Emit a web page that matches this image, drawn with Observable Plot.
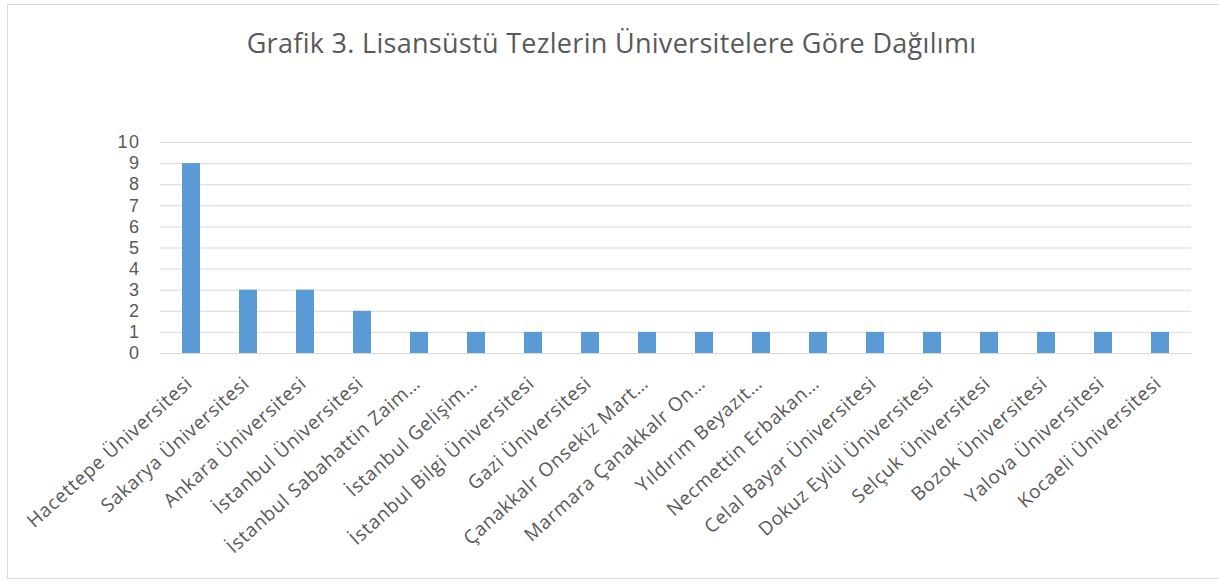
<!DOCTYPE html>
<html>
<head>
<meta charset="utf-8">
<script src="https://cdn.jsdelivr.net/npm/d3@7"></script>
<script src="https://cdn.jsdelivr.net/npm/@observablehq/plot@0.6"></script>
<style>
  html, body { margin: 0; padding: 0; background: #fff; overflow: hidden; }
  #frame { position: absolute; left: 7px; top: 4px; width: 1220px; height: 575px; border: 1px solid #d9d9d9; box-sizing: border-box; }
  #title { position: absolute; left: 0; top: 24px; width: 1223px; text-align: center; font-family: "Open Sans", sans-serif; font-size: 27px; line-height: normal; letter-spacing: 0.3px; color: #595959; white-space: nowrap; }
  #chart { position: absolute; left: 0; top: 0; }
  #chart g[aria-label="x-axis tick label"] text { letter-spacing: 0.7px; }
  #chart g[aria-label="y-axis tick label"] text { letter-spacing: 1.5px; }
</style>
</head>
<body>
<div id="frame"></div>
<div id="chart"></div>
<div id="title">Grafik 3. Lisansüstü Tezlerin Üniversitelere Göre Dağılımı</div>
<script>
const universities = [
  "Hacettepe Üniversitesi",
  "Sakarya Üniversitesi",
  "Ankara Üniversitesi",
  "İstanbul Üniversitesi",
  "İstanbul Sabahattin Zaim…",
  "İstanbul Gelişim…",
  "İstanbul Bilgi Üniversitesi",
  "Gazi Üniversitesi",
  "Çanakkalr Onsekiz Mart…",
  "Marmara Çanakkalr On…",
  "Yıldırım Beyazıt…",
  "Necmettin Erbakan…",
  "Celal Bayar Üniversitesi",
  "Dokuz Eylül Üniversitesi",
  "Selçuk Üniversitesi",
  "Bozok Üniversitesi",
  "Yalova Üniversitesi",
  "Kocaeli Üniversitesi"
];
const counts = [9, 3, 3, 2, 1, 1, 1, 1, 1, 1, 1, 1, 1, 1, 1, 1, 1, 1];
const yTicks = [0, 1, 2, 3, 4, 5, 6, 7, 8, 9, 10];

const data = universities.map((u, i) => ({university: u, count: counts[i]}));

const chart = Plot.plot({
  width: 1219,
  height: 580,
  marginTop: 142,
  marginBottom: 227,
  marginLeft: 160,
  marginRight: 28,
  style: {fontFamily: "Open Sans, sans-serif", fontSize: "19px", color: "#595959", background: "transparent", overflow: "visible"},
  x: {domain: universities, paddingInner: 0.686, paddingOuter: 0.343, label: null},
  y: {domain: [0, 10], label: null},
  marks: [
    Plot.gridY(yTicks, {stroke: "#d9d9d9", strokeOpacity: 1, strokeWidth: 1}),
    Plot.barY(data, {x: "university", y: "count", fill: "#5b9bd5"}),
    Plot.axisY(yTicks, {tickSize: 0, tickPadding: 20, fontSize: 18, fontFamily: "Liberation Sans, sans-serif", fill: "#595959", label: null}),
    Plot.axisX({tickSize: 0, tickRotate: -42, tickPadding: 27, dx: -2, fontSize: 19, fill: "#595959", label: null, textOverflow: null})
  ]
});
document.getElementById("chart").appendChild(chart);
</script>
</body>
</html>
